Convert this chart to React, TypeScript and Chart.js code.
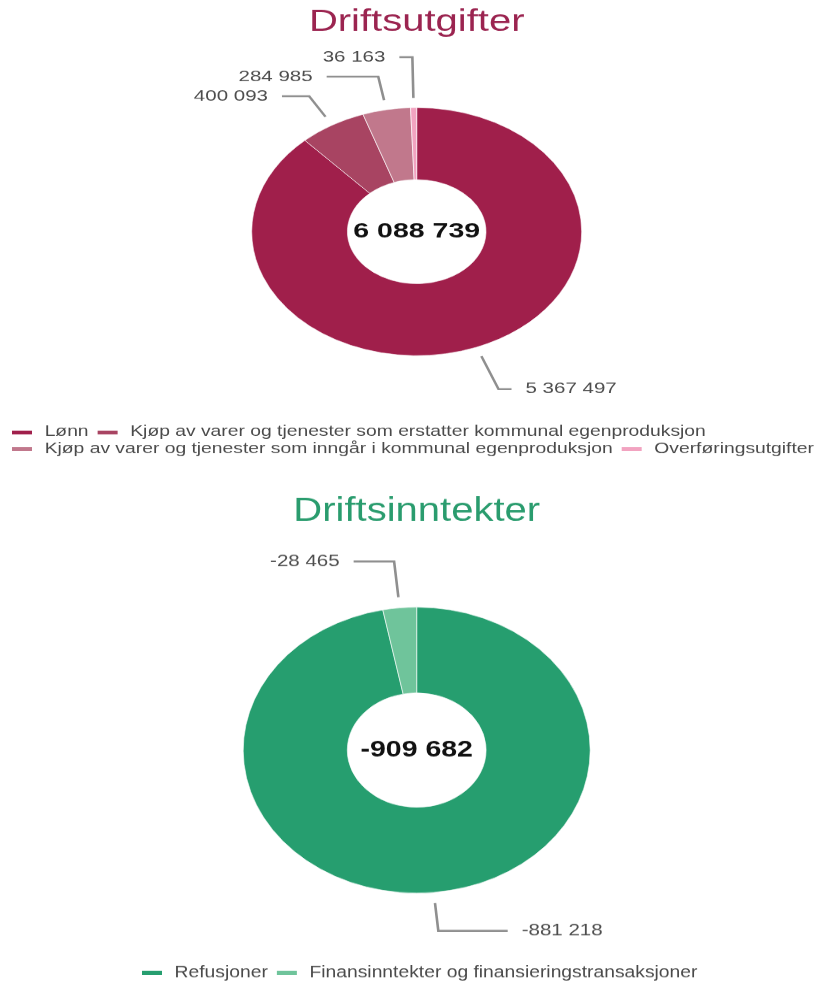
import React, { useEffect, useRef } from 'react';
import { Chart, registerables } from 'chart.js';

Chart.register(...registerables);

const FONT = '"Liberation Sans", Arial, Helvetica, sans-serif';

// ---- Data ----
const utgifterLabels = [
  'Lønn',
  'Kjøp av varer og tjenester som erstatter kommunal egenproduksjon',
  'Kjøp av varer og tjenester som inngår i kommunal egenproduksjon',
  'Overføringsutgifter',
];
const utgifterValues = [5367497, 400093, 284985, 36163];
const utgifterTotal = 6088739;

const inntekterLabels = ['Refusjoner', 'Finansinntekter og finansieringstransaksjoner'];
const inntekterValues = [-881218, -28465];
const inntekterTotal = -909682;

const utgifterColors = ['#a01f4b', '#a84462', '#c1788c', '#f2a3c0'];
const inntekterColors = ['#269e6f', '#6fc49b'];

function fmt(v: number): string {
  const s = Math.abs(Math.round(v))
    .toString()
    .replace(/\B(?=(\d{3})+(?!\d))/g, ' ');
  return (v < 0 ? '-' : '') + s;
}

function makeMarker(color: string): HTMLCanvasElement {
  const c = document.createElement('canvas');
  c.width = 29;
  c.height = 5;
  const g = c.getContext('2d')!;
  g.fillStyle = color;
  g.fillRect(6, 0, 20, 5);
  return c;
}

function distribute(list: any[], S: number, ymin: number, ymax: number) {
  if (!list.length) return;
  let clusters = list.map((it) => ({ items: [it], sum: it.ny }));
  const top = (c: any) => c.sum / c.items.length - ((c.items.length - 1) * S) / 2;
  let changed = true;
  while (changed) {
    changed = false;
    for (let k = 0; k < clusters.length - 1; k++) {
      const a = clusters[k];
      const b = clusters[k + 1];
      if (top(b) - (top(a) + (a.items.length - 1) * S) < S) {
        clusters.splice(k, 2, { items: a.items.concat(b.items), sum: a.sum + b.sum });
        changed = true;
        break;
      }
    }
  }
  const ys: number[] = [];
  clusters.forEach((c) => c.items.forEach((_it: any, j: number) => ys.push(top(c) + j * S)));
  ys[0] = Math.max(ys[0], ymin);
  for (let k = 1; k < ys.length; k++) ys[k] = Math.max(ys[k], ys[k - 1] + S);
  ys[ys.length - 1] = Math.min(ys[ys.length - 1], ymax);
  for (let k = ys.length - 2; k >= 0; k--) ys[k] = Math.min(ys[k], ys[k + 1] - S);
  list.forEach((it, k) => (it.y = ys[k]));
}

const donutLabels = {
  id: 'donutLabels',
  afterDatasetsDraw(chart: any, _args: any, opts: any) {
    const meta = chart.getDatasetMeta(0);
    if (!meta || !meta.data.length) return;
    const ctx = chart.ctx as CanvasRenderingContext2D;
    const values = chart.data.datasets[0].data as number[];
    const area = chart.chartArea;
    const ymin = area.top + opts.topInset;
    const ymax = area.bottom - opts.bottomInset;
    const items: any[] = [];
    let cx = 0;
    let cy = 0;
    let R = 0;
    meta.data.forEach((arc: any, i: number) => {
      const p = arc.getProps(['x', 'y', 'startAngle', 'endAngle', 'outerRadius'], true);
      cx = p.x;
      cy = p.y;
      R = p.outerRadius;
      const mid = (p.startAngle + p.endAngle) / 2;
      const cos = Math.cos(mid);
      const sin = Math.sin(mid);
      const rl = R + opts.labelDistance;
      items.push({ i, cos, sin, side: cos < 0 ? -1 : 1, ny: cy + rl * sin, y: 0, text: fmt(values[i]) });
    });
    [-1, 1].forEach((side) => {
      const list = items.filter((it) => it.side === side).sort((a, b) => a.ny - b.ny);
      distribute(list, opts.spacing, ymin, ymax);
    });

    ctx.save();
    ctx.lineWidth = opts.lineWidth;
    ctx.strokeStyle = opts.lineColor;
    ctx.lineJoin = 'miter';
    ctx.font = `${opts.fontSize}px ${FONT}`;
    ctx.fillStyle = opts.textColor;
    ctx.textBaseline = 'middle';
    items.forEach((it) => {
      const r0 = R + opts.startGap;
      const sx = cx + r0 * it.cos;
      const sy = cy + r0 * it.sin;
      const dy = it.y - cy;
      let kx = sx;
      if (Math.abs(it.sin) > 0.05) {
        const t = dy / it.sin;
        if (t > r0) kx = cx + t * it.cos;
      }
      const rl = R + opts.labelDistance;
      const circ = Math.sqrt(Math.max(rl * rl - dy * dy, 0));
      const ax = cx + it.side * Math.max(circ, Math.abs(kx - cx) + opts.minHorizontal);
      ctx.beginPath();
      ctx.moveTo(sx, sy);
      ctx.lineTo(kx, it.y);
      ctx.lineTo(ax, it.y);
      ctx.stroke();
      ctx.textAlign = it.side > 0 ? 'left' : 'right';
      ctx.fillText(it.text, ax + it.side * opts.textGap, it.y);
    });
    ctx.font = `bold ${opts.centerSize}px ${FONT}`;
    ctx.fillStyle = opts.centerColor;
    ctx.textAlign = 'center';
    ctx.fillText(fmt(opts.total), cx, cy);
    ctx.restore();
  },
};

type DonutProps = {
  labels: string[];
  values: number[];
  colors: string[];
  total: number;
  title: string;
  titleColor: string;
  legendAlign: 'start' | 'center' | 'end';
  canvasWidth: number;
  canvasHeight: number;
  scaleY: number;
  top: number;
  containerHeight: number;
  titlePadding: { top: number; bottom: number };
  layoutPadding: { left: number; right: number; top: number; bottom: number };
  cutout: string;
  radius: number;
  labelDistance: number;
  topInset: number;
  bottomInset: number;
};

function DonutChart(props: DonutProps) {
  const ref = useRef<HTMLCanvasElement>(null);
  useEffect(() => {
    const markers = props.colors.map(makeMarker);
    const chart = new Chart(ref.current!, {
      type: 'doughnut',
      data: {
        labels: props.labels,
        datasets: [
          {
            data: props.values,
            backgroundColor: props.colors,
            borderColor: 'rgba(255,255,255,0.6)',
            borderWidth: 1,
            radius: props.radius,
            cutout: props.cutout,
          } as any,
        ],
      },
      options: {
        responsive: false,
        animation: false,
        events: [],
        layout: { padding: props.layoutPadding },
        plugins: {
          title: {
            display: true,
            text: props.title,
            color: props.titleColor,
            font: { family: FONT, size: 40, weight: 'normal', lineHeight: 1.2 },
            padding: props.titlePadding,
          },
          legend: {
            display: true,
            position: 'bottom',
            align: props.legendAlign,
            labels: {
              usePointStyle: true,
              pointStyleWidth: 29,
              padding: 3,
              color: '#4a4a4a',
              font: { family: FONT, size: 19.3 },
              generateLabels: () =>
                props.labels.map((text, i) => ({
                  text,
                  fillStyle: props.colors[i],
                  strokeStyle: props.colors[i],
                  lineWidth: 0,
                  pointStyle: markers[i],
                  hidden: false,
                  index: i,
                  fontColor: '#4a4a4a',
                })) as any,
            },
          },
          tooltip: { enabled: false },
          donutLabels: {
            labelDistance: props.labelDistance,
            startGap: 13,
            spacing: 26,
            topInset: props.topInset,
            bottomInset: props.bottomInset,
            minHorizontal: 13,
            textGap: 14,
            fontSize: 20.5,
            textColor: '#4d4d4d',
            lineColor: '#8f8f8f',
            lineWidth: 2.6,
            total: props.total,
            centerSize: 28.5,
            centerColor: '#111111',
          },
        } as any,
      },
      plugins: [donutLabels as any],
    });
    return () => chart.destroy();
  }, []);

  return (
    <div
      style={{
        position: 'absolute',
        left: 0,
        top: props.top,
        width: 825,
        height: props.containerHeight,
        overflow: 'hidden',
      }}
    >
      <canvas
        ref={ref}
        width={props.canvasWidth}
        height={props.canvasHeight}
        style={{
          display: 'block',
          width: `${props.canvasWidth}px`,
          height: `${props.canvasHeight}px`,
          transform: `scaleY(${props.scaleY})`,
          transformOrigin: '0 0',
        }}
      />
    </div>
  );
}

export default function App() {
  return (
    <div>
      <DonutChart
        labels={utgifterLabels}
        values={utgifterValues}
        colors={utgifterColors}
        total={utgifterTotal}
        title="Driftsutgifter"
        titleColor="#9b2450"
        legendAlign="start"
        canvasWidth={835}
        canvasHeight={625}
        scaleY={0.7515}
        top={0}
        containerHeight={470}
        titlePadding={{ top: 6, bottom: 0 }}
        layoutPadding={{ left: 3, right: 4.6, top: 0, bottom: 8 }}
        cutout="42%"
        radius={165}
        labelDistance={60}
        topInset={22}
        bottomInset={38.6}
      />
      <DonutChart
        labels={inntekterLabels}
        values={inntekterValues}
        colors={inntekterColors}
        total={inntekterTotal}
        title="Driftsinntekter"
        titleColor="#2a9c6e"
        legendAlign="center"
        canvasWidth={835}
        canvasHeight={621}
        scaleY={0.824}
        top={478}
        containerHeight={512}
        titlePadding={{ top: 17, bottom: 7.25 }}
        layoutPadding={{ left: 3, right: 4.6, top: 0, bottom: 0.5 }}
        cutout="40%"
        radius={173.5}
        labelDistance={64}
        topInset={29}
        bottomInset={38.6}
      />
    </div>
  );
}
